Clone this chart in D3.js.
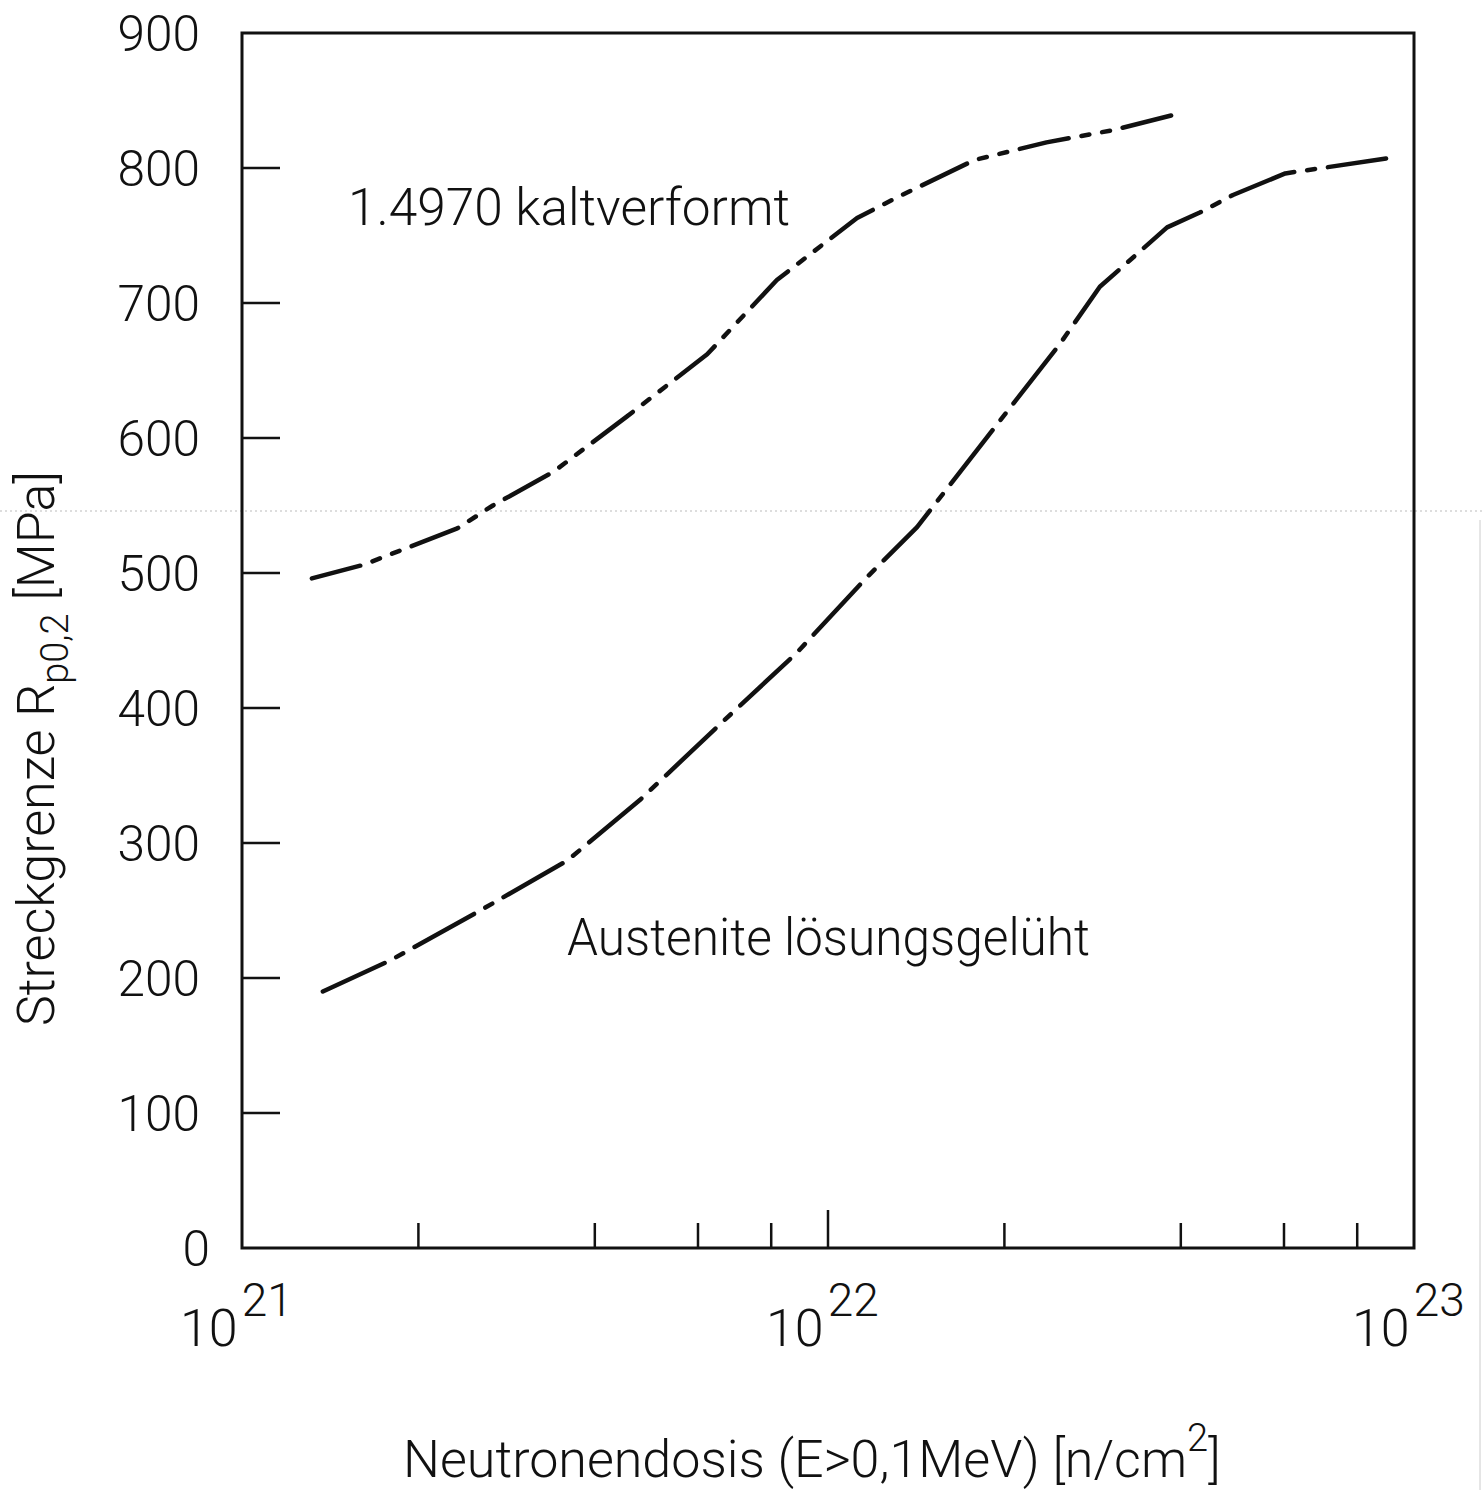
<!DOCTYPE html>
<html lang="de">
<head>
<meta charset="UTF-8">
<title>Streckgrenze</title>
<style>
  body { margin: 0; background: #fff; }
  svg text { font-family: Roboto, "DejaVu Sans", sans-serif; font-weight: 300; fill: #111; }
  .frame { fill: none; stroke: #111; stroke-width: 3px; }
  .tick { stroke: #111; stroke-width: 2.5px; }
  .curve { fill: none; stroke: #111; stroke-width: 4.5px; stroke-linecap: round; stroke-linejoin: round; }
</style>
</head>
<body>
<div id="chart"></div>
<script src="https://d3js.org/d3.v7.min.js"></script>
<script>
  // Werte
  const kaltDose = [1.316e21, 1.61e21, 2.33e21, 2.68e21, 3.40e21, 4.54e21, 6.22e21, 8.18e21, 1.121e22, 1.337e22, 1.51e22, 1.78e22, 2.36e22, 3.06e22, 4.03e22];
  const kaltRp   = [496, 506, 533, 550, 575, 616, 662, 717, 763, 780, 791, 806, 819, 828, 841];

  const glueDose = [1.374e21, 1.79e21, 2.55e21, 3.59e21, 4.78e21, 6.47e21, 8.85e21, 1.166e22, 1.419e22, 1.796e22, 2.49e22, 2.91e22, 3.79e22, 4.31e22, 4.91e22, 6.03e22, 8.96e22];
  const glueRp   = [190, 213, 250, 287, 332, 386, 441, 497, 534, 591, 670, 712, 756, 767, 780, 796, 807];

  const yTicks = [0, 100, 200, 300, 400, 500, 600, 700, 800, 900];
  const xMinor = [2e21, 4e21, 6e21, 8e21, 2e22, 4e22, 6e22, 8e22];
  const xMajor = [1e21, 1e22, 1e23];

  const W = 1483, H = 1490;
  const L = 242, R = 1414, T = 33, B = 1248;

  const svg = d3.select("#chart").append("svg")
      .attr("width", W).attr("height", H);

  const x = d3.scaleLog().domain([1e21, 1e23]).range([L, R]);
  const y = d3.scaleLinear().domain([0, 900]).range([B, T]);

  // Scan-Spuren
  svg.append("line")
      .attr("x1", 0).attr("x2", W).attr("y1", 511).attr("y2", 511)
      .attr("stroke", "#bbb").attr("stroke-width", 1).attr("stroke-dasharray", "2,3");
  svg.append("line")
      .attr("x1", 1480).attr("x2", 1480).attr("y1", 520).attr("y2", H)
      .attr("stroke", "#ccc").attr("stroke-width", 1);

  // Rahmen
  svg.append("rect").attr("class", "frame")
      .attr("x", L).attr("y", T).attr("width", R - L).attr("height", B - T);

  // y ticks (innen)
  svg.selectAll(".ytick").data(yTicks.slice(1, -1)).enter().append("line")
      .attr("class", "tick")
      .attr("x1", L).attr("x2", L + 38)
      .attr("y1", d => y(d)).attr("y2", d => y(d));

  svg.selectAll(".ylab").data(yTicks).enter().append("text")
      .attr("x", d => d === 0 ? 210 : 200).attr("y", d => y(d))
      .attr("dy", "0.36em")
      .attr("text-anchor", "end")
      .attr("font-size", 50)
      .attr("textLength", d => String(d).length * 27.5).attr("lengthAdjust", "spacingAndGlyphs")
      .text(d => d);

  // x ticks (innen)
  svg.selectAll(".xminor").data(xMinor).enter().append("line")
      .attr("class", "tick")
      .attr("x1", d => x(d)).attr("x2", d => x(d))
      .attr("y1", B).attr("y2", B - 25);
  svg.append("line").attr("class", "tick")
      .attr("x1", x(1e22)).attr("x2", x(1e22))
      .attr("y1", B).attr("y2", B - 38);

  const xl = svg.selectAll(".xlab").data(xMajor).enter().append("text")
      .attr("x", d => x(d) - 62).attr("y", 1346)
      .attr("font-size", 52);
  xl.append("tspan").text("10");
  xl.append("tspan").attr("dy", -30).attr("dx", 4).attr("font-size", 46)
      .text(d => Math.round(Math.log10(d)));

  // Achsentitel
  const xt = svg.append("text")
      .attr("x", 403).attr("y", 1477)
      .attr("font-size", 52);
  xt.append("tspan").text("Neutronendosis (E>0,1MeV) [n/cm");
  xt.append("tspan").attr("dy", -26).attr("font-size", 38).text("2");
  xt.append("tspan").attr("dy", 26).text("]");

  const yt = svg.append("text")
      .attr("transform", "translate(54,1026) rotate(-90)")
      .attr("font-size", 52);
  yt.append("tspan").text("Streckgrenze R");
  yt.append("tspan").attr("dy", 14).attr("font-size", 38).text("p0,2");
  yt.append("tspan").attr("dy", -14).text(" [MPa]");

  // Kurven
  const line = d3.line()
      .x(d => x(d[0]))
      .y(d => y(d[1]))
      .curve(d3.curveLinear);

  svg.append("path").attr("class", "curve")
      .attr("d", line(d3.zip(kaltDose, kaltRp)))
      .attr("stroke-dasharray", "50,13,8,13,8,13");

  svg.append("path").attr("class", "curve")
      .attr("d", line(d3.zip(glueDose, glueRp)))
      .attr("stroke-dasharray", "68,13,8,13");

  // Beschriftungen
  svg.append("text")
      .attr("x", 348).attr("y", 225)
      .attr("font-size", 52)
      .attr("textLength", 442).attr("lengthAdjust", "spacingAndGlyphs")
      .text("1.4970 kaltverformt");

  svg.append("text")
      .attr("x", 567).attr("y", 955)
      .attr("font-size", 52)
      .attr("textLength", 523).attr("lengthAdjust", "spacingAndGlyphs")
      .text("Austenite lösungsgelüht");
</script>
</body>
</html>
